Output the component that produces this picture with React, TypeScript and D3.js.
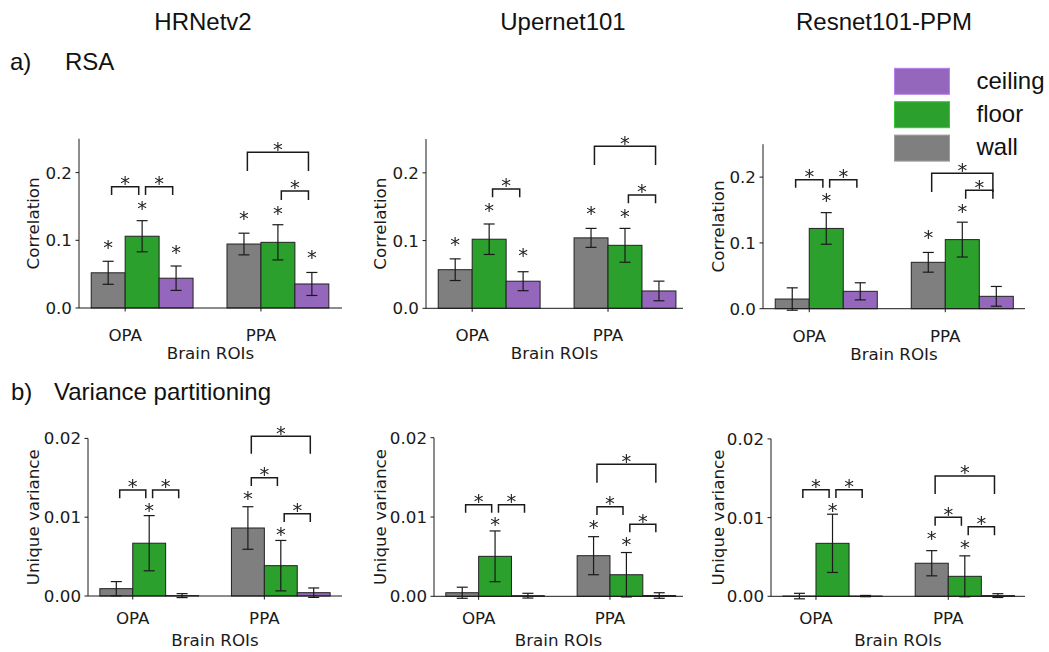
import * as d3 from "d3";

// bar order inside each ROI: wall, floor, ceiling
const rois = ["OPA", "PPA"];
const conditions = ["wall", "floor", "ceiling"];
const condColors = ["#7f7f7f", "#2ca02c", "#9467bd"];
const legendOrder = [2, 1, 0];
const models = ["HRNetv2", "Upernet101", "Resnet101-PPM"];

// RSA correlation (OPA wall, floor, ceiling, PPA wall, floor, ceiling)
const rsaHrnetMean = [0.052, 0.106, 0.044, 0.0945, 0.097, 0.0355];
const rsaHrnetErr = [0.017, 0.023, 0.018, 0.016, 0.026, 0.017];
const rsaHrnetStar = [0.0965, 0.1547, 0.0897, 0.14, 0.1467, 0.0817];
const rsaUperMean = [0.057, 0.102, 0.04, 0.104, 0.093, 0.0256];
const rsaUperErr = [0.016, 0.0225, 0.014, 0.014, 0.025, 0.0145];
const rsaUperStar = [0.102, 0.151, 0.0846, 0.1477, 0.1427, null];
const rsaResMean = [0.0147, 0.122, 0.0264, 0.0705, 0.105, 0.0188];
const rsaResErr = [0.017, 0.024, 0.013, 0.015, 0.0265, 0.015];
const rsaResStar = [null, 0.1713, null, 0.1155, 0.1556, null];

// unique variance
const vpHrnetMean = [0.00093, 0.0067, 0.00005, 0.00863, 0.00385, 0.00042];
const vpHrnetErr = [0.0009, 0.0035, 0.00025, 0.0027, 0.0032, 0.0006];
const vpHrnetStar = [null, 0.01142, null, 0.01294, 0.00846, null];
const vpUperMean = [0.00045, 0.00504, 0.00008, 0.00512, 0.00272, 0.0001];
const vpUperErr = [0.0007, 0.0032, 0.0003, 0.0024, 0.0028, 0.00035];
const vpUperStar = [null, 0.00962, null, 0.00928, 0.0071, null];
const vpResMean = [0.00003, 0.00673, 0.00003, 0.0042, 0.00254, 0.00009];
const vpResErr = [0.00035, 0.0037, 0.00008, 0.0016, 0.0026, 0.00024];
const vpResStar = [null, 0.01151, null, 0.008, 0.00681, null];

// significance brackets: [roi, barA, barB, top, legBottom]
const rsaHrnetBr = [[0, 0, 1, 0.179, 0.167], [0, 1, 2, 0.179, 0.167], [1, 0, 2, 0.23, 0.2024], [1, 1, 2, 0.1728, 0.1595]];
const rsaUperBr = [[0, 1, 2, 0.1762, 0.164], [1, 0, 2, 0.2393, 0.2117], [1, 1, 2, 0.1674, 0.1551]];
const rsaResBr = [[0, 0, 1, 0.196, 0.1839], [0, 1, 2, 0.196, 0.1839], [1, 0, 2, 0.2058, 0.1774], [1, 1, 2, 0.18, 0.1672]];
const vpHrnetBr = [[0, 0, 1, 0.01345, 0.0124], [0, 1, 2, 0.01345, 0.0124], [1, 0, 2, 0.02027, 0.01806], [1, 0, 1, 0.015, 0.01396], [1, 1, 2, 0.01044, 0.00939]];
const vpUperBr = [[0, 0, 1, 0.01155, 0.01054], [0, 1, 2, 0.01155, 0.01054], [1, 0, 2, 0.01665, 0.01432], [1, 0, 1, 0.0113, 0.01025], [1, 1, 2, 0.00908, 0.00807]];
const vpResBr = [[0, 0, 1, 0.01354, 0.01249], [0, 1, 2, 0.01354, 0.01249], [1, 0, 2, 0.01529, 0.013], [1, 0, 1, 0.01004, 0.00897], [1, 1, 2, 0.00884, 0.00775]];

const rsaTicks = [0, 0.1, 0.2];
const vpTicks = [0, 0.01, 0.02];

const AX_FONT = "DejaVu Sans, sans-serif";
const TXT_FONT = "Liberation Sans, Arial, sans-serif";
const INK = "#1a1a1a";

const panels = [
  { mean: rsaHrnetMean, err: rsaHrnetErr, star: rsaHrnetStar, br: rsaHrnetBr, left: 79, right: 342, top: 138.75, bottom: 308, xmax: 1.597, ymax: 0.25, ticks: rsaTicks, fmt: ".1f", ylabel: "Correlation", labOff: 46, tickOff: 33, xlabOff: 51 },
  { mean: rsaUperMean, err: rsaUperErr, star: rsaUperStar, br: rsaUperBr, left: 426, right: 683, top: 139, bottom: 308.3, xmax: 1.552, ymax: 0.25, ticks: rsaTicks, fmt: ".1f", ylabel: "Correlation", labOff: 46, tickOff: 33, xlabOff: 51 },
  { mean: rsaResMean, err: rsaResErr, star: rsaResStar, br: rsaResBr, left: 763, right: 1025, top: 144.2, bottom: 308.7, xmax: 1.586, ymax: 0.25, ticks: rsaTicks, fmt: ".1f", ylabel: "Correlation", labOff: 45, tickOff: 33, xlabOff: 51 },
  { mean: vpHrnetMean, err: vpHrnetErr, star: vpHrnetStar, br: vpHrnetBr, left: 88, right: 342, top: 438.4, bottom: 596, xmax: 1.59, ymax: 0.02, ticks: vpTicks, fmt: ".2f", ylabel: "Unique variance", labOff: 55, tickOff: 28, xlabOff: 50 },
  { mean: vpUperMean, err: vpUperErr, star: vpUperStar, br: vpUperBr, left: 434, right: 683, top: 437.7, bottom: 596.3, xmax: 1.556, ymax: 0.02, ticks: vpTicks, fmt: ".2f", ylabel: "Unique variance", labOff: 54, tickOff: 28, xlabOff: 50 },
  { mean: vpResMean, err: vpResErr, star: vpResStar, br: vpResBr, left: 771, right: 1025, top: 438.9, bottom: 596.3, xmax: 1.58, ymax: 0.02, ticks: vpTicks, fmt: ".2f", ylabel: "Unique variance", labOff: 53, tickOff: 28, xlabOff: 50 },
];

const BW = 0.25;

function Star({ x, y }: { x: number; y: number }) {
  // y is the visual centre of the asterisk
  return (
    <text x={x} y={y + 11.3} textAnchor="middle" fontFamily={AX_FONT} fontSize={19.5} fill="#222" filter="url(#gray)">
      *
    </text>
  );
}

function Panel({ p }: { p: any }) {
  const x = d3.scaleLinear().domain([-0.34, p.xmax]).range([p.left, p.right]);
  const y = d3.scaleLinear().domain([0, p.ymax]).range([p.bottom, p.top]);
  const fmt = d3.format(p.fmt);
  const barX = (i: number) => {
    const r = Math.floor(i / 3);
    const c = i % 3;
    return r + (c - 1) * BW;
  };
  const centre = (r: number, c: number) => x(r + (c - 1) * BW + BW / 2);
  const midY = (p.top + p.bottom) / 2;
  const midX = (p.left + p.right) / 2;
  return (
    <g>
      {p.mean.map((m: number, i: number) => {
        const x0 = x(barX(i));
        const x1 = x(barX(i) + BW);
        const h = Math.max(y(0) - y(m), 0.3);
        return (
          <rect key={"b" + i} x={x0} y={y(0) - h} width={x1 - x0} height={h}
            fill={condColors[i % 3]} stroke="#222" strokeWidth={1} />
        );
      })}
      {p.mean.map((m: number, i: number) => {
        const cx = x(barX(i) + BW / 2);
        const y1 = y(m + p.err[i]);
        const y2 = y(m - p.err[i]);
        return (
          <g key={"e" + i} stroke={INK} strokeWidth={1.2}>
            <line x1={cx} x2={cx} y1={y1} y2={y2} />
            <line x1={cx - 5.5} x2={cx + 5.5} y1={y1} y2={y1} />
            <line x1={cx - 5.5} x2={cx + 5.5} y1={y2} y2={y2} />
          </g>
        );
      })}
      {p.star.map((s: number | null, i: number) =>
        s == null ? null : <Star key={"s" + i} x={x(barX(i) + BW / 2)} y={y(s)} />
      )}
      {p.br.map((b: number[], i: number) => {
        const xa = centre(b[0], b[1]) + 3.4;
        const xb = centre(b[0], b[2]) - 3.4;
        const yt = y(b[3]);
        const yl = y(b[4]);
        return (
          <g key={"br" + i}>
            <path d={`M${xa},${yl}V${yt}H${xb}V${yl}`} fill="none" stroke={INK} strokeWidth={1.5} />
            <Star x={(xa + xb) / 2} y={yt - 8} />
          </g>
        );
      })}
      {/* spines */}
      <line x1={p.left} x2={p.left} y1={p.top} y2={p.bottom} stroke={INK} strokeWidth={1} />
      <line x1={p.left} x2={p.right} y1={p.bottom} y2={p.bottom} stroke={INK} strokeWidth={1} />
      {p.ticks.map((t: number) => (
        <g key={"yt" + t}>
          <line x1={p.left - 3.5} x2={p.left} y1={y(t)} y2={y(t)} stroke={INK} strokeWidth={1} />
          <text x={p.left - 7} y={y(t)} dy="0.36em" textAnchor="end" fontFamily={AX_FONT} fontSize={16.7} fill={INK}>
            {fmt(t)}
          </text>
        </g>
      ))}
      {rois.map((r, i) => (
        <g key={"xt" + r}>
          <line x1={x(i)} x2={x(i)} y1={p.bottom} y2={p.bottom + 3.5} stroke={INK} strokeWidth={1} />
          <text x={x(i)} y={p.bottom + p.tickOff} textAnchor="middle" fontFamily={AX_FONT} fontSize={16.7} fill={INK}>
            {r}
          </text>
        </g>
      ))}
      <text x={midX} y={p.bottom + p.xlabOff} textAnchor="middle" fontFamily={AX_FONT} fontSize={16.7} fill={INK}>
        Brain ROIs
      </text>
      <text transform={`translate(${p.left - p.labOff},${midY}) rotate(-90)`} dy="0.36em" textAnchor="middle"
        fontFamily={AX_FONT} fontSize={16.7} fill={INK}>
        {p.ylabel}
      </text>
    </g>
  );
}

export default function App() {
  const titleX = [203, 563, 884];
  return (
    <svg width={1049} height={652} style={{ position: "absolute", left: 0, top: 0, background: "#fff" }}>
      <defs>
        <filter id="gray" x="-50%" y="-50%" width="200%" height="200%">
          <feColorMatrix type="saturate" values="0" />
        </filter>
      </defs>
      {models.map((m, i) => (
        <text key={m} x={titleX[i]} y={30} textAnchor="middle" fontFamily={TXT_FONT} fontSize={24} fill="#111">
          {m}
        </text>
      ))}
      <text x={10} y={70} fontFamily={TXT_FONT} fontSize={24} fill="#111">a)</text>
      <text x={65} y={70} fontFamily={TXT_FONT} fontSize={24} fill="#111">RSA</text>
      <text x={11} y={400} fontFamily={TXT_FONT} fontSize={24} fill="#111">b)</text>
      <text x={54} y={400} fontFamily={TXT_FONT} fontSize={24} fill="#111">Variance partitioning</text>
      {panels.map((p, i) => (
        <Panel key={i} p={p} />
      ))}
      {legendOrder.map((c, i) => (
        <g key={"lg" + c}>
          <rect x={894.5} y={68.3 + i * 33.4} width={55} height={26} fill={condColors[c]}
            stroke={d3.color(condColors[c])!.brighter(0.6).formatHex()} strokeWidth={1} />
          <text x={976.5} y={81.3 + i * 33.4} dy="0.3em" fontFamily={TXT_FONT} fontSize={24} fill="#111">
            {conditions[c]}
          </text>
        </g>
      ))}
    </svg>
  );
}
